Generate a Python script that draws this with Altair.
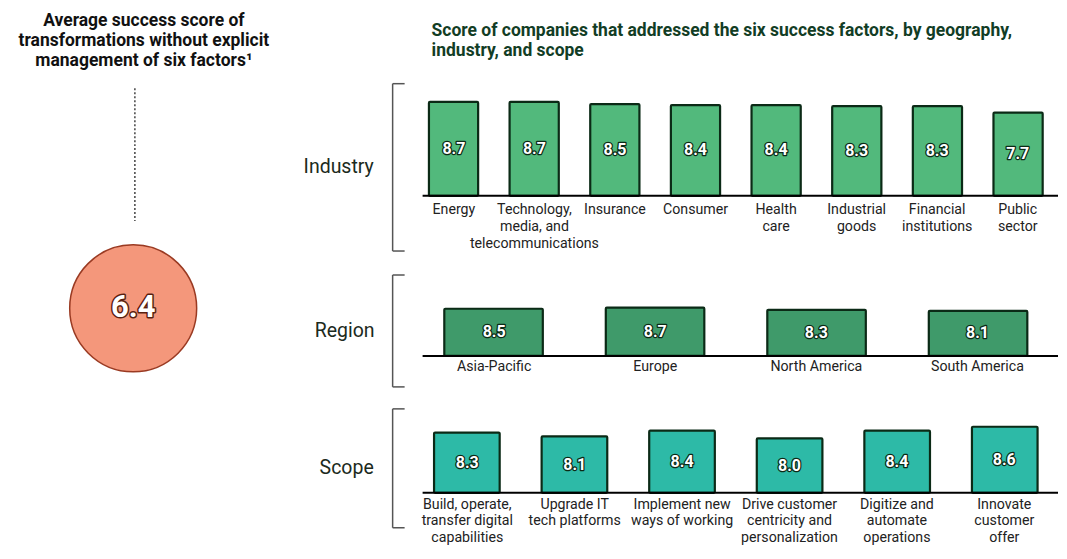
import altair as alt
import pandas as pd

# ---------------- data ----------------
left_title = ["Average success score of", "transformations without explicit", "management of six factors¹"]
right_title = ["Score of companies that addressed the six success factors, by geography,", "industry, and scope"]
row_names = ["Industry", "Region", "Scope"]
baseline_value = [6.4]

industry_cats = ["Energy", "Technology,\nmedia, and\ntelecommunications", "Insurance", "Consumer",
                 "Health\ncare", "Industrial\ngoods", "Financial\ninstitutions", "Public\nsector"]
industry_vals = [8.7, 8.7, 8.5, 8.4, 8.4, 8.3, 8.3, 7.7]

region_cats = ["Asia-Pacific", "Europe", "North America", "South America"]
region_vals = [8.5, 8.7, 8.3, 8.1]

scope_cats = ["Build, operate,\ntransfer digital\ncapabilities", "Upgrade IT\ntech platforms",
              "Implement new\nways of working", "Drive customer\ncentricity and\npersonalization",
              "Digitize and\nautomate\noperations", "Innovate\ncustomer\noffer"]
scope_vals = [8.3, 8.1, 8.4, 8.0, 8.4, 8.6]

# ---------------- styling / layout ----------------
FONT = "Roboto"
W, H = 1051, 536
X_RANGE = [406, 1051]
OUTLINE = "#0b2a16"
one = pd.DataFrame({"k": [0]})


def group(cats, vals, name, color, y_domain, y_range, label_top, line_h, bracket, name_pos):
    df = pd.DataFrame({"cat": cats, "value": vals})
    base = y_domain[0]
    xenc = alt.X("cat:N", sort=None, axis=None,
                 scale=alt.Scale(range=X_RANGE, paddingInner=0.39, paddingOuter=0.19))
    ysc = alt.Scale(domain=y_domain, range=y_range, zero=False, nice=False, clamp=True)

    bars = alt.Chart(df).mark_bar(color=color, stroke=OUTLINE, strokeWidth=2.2, cornerRadius=1).encode(
        x=xenc, y=alt.Y("value:Q", scale=ysc, axis=None), y2=alt.datum(base))

    rule = alt.Chart(one).mark_rule(color="black", strokeWidth=2).encode(
        x=alt.value(415), x2=alt.value(W), y=alt.YDatum(base, scale=ysc, axis=None))

    mid = alt.Chart(df).transform_calculate(mid=f"(datum.value + {base}) / 2")
    val_outline = mid.mark_text(font=FONT, fontWeight="bold", fontSize=16, color=OUTLINE,
                                stroke=OUTLINE, strokeWidth=2.5, strokeJoin="round").encode(
        x=xenc, y=alt.Y("mid:Q", scale=ysc, axis=None), text=alt.Text("value:Q", format=".1f"))
    val_text = mid.mark_text(font=FONT, fontWeight="bold", fontSize=16, color="white").encode(
        x=xenc, y=alt.Y("mid:Q", scale=ysc, axis=None), text=alt.Text("value:Q", format=".1f"))

    labels = alt.Chart(df).mark_text(font=FONT, fontSize=14.2, color="#222222", baseline="top",
                                     lineBreak="\n", lineHeight=line_h).encode(
        x=xenc, y=alt.value(label_top), text="cat:N")

    bx, b0, b1 = bracket
    br_v = alt.Chart(one).mark_rule(color="#555555", strokeWidth=1.5).encode(
        x=alt.value(bx), y=alt.value(b0), y2=alt.value(b1))
    br_t = alt.Chart(one).mark_rule(color="#555555", strokeWidth=1.5).encode(
        x=alt.value(bx), x2=alt.value(bx + 12), y=alt.value(b0))
    br_b = alt.Chart(one).mark_rule(color="#555555", strokeWidth=1.5).encode(
        x=alt.value(bx), x2=alt.value(bx + 12), y=alt.value(b1))

    row_label = alt.Chart(pd.DataFrame({"name": [name]})).mark_text(
        font=FONT, fontSize=19.5, color="#1b2a20").encode(
        x=alt.value(name_pos[0]), y=alt.value(name_pos[1]), text="name:N")

    return [bars, rule, val_outline, val_text, labels, br_v, br_t, br_b, row_label]


industry = group(industry_cats, industry_vals, row_names[0], "#52b97c",
                 [0, 9], [187.7, 90.5], 195, 17, (385, 75.5, 243), (331, 159))
region = group(region_cats, region_vals, row_names[1], "#3f9a6a",
               [0, 9], [348, 298], 352, 17, (385, 267, 379), (337, 323))
scope = group(scope_cats, scope_vals, row_names[2], "#2dbaa7",
              [5.2, 8.8], [485, 415], 490, 16.5, (385, 401, 520), (339, 460))

# ---------------- left panel ----------------
lt = alt.Chart(pd.DataFrame({"t": ["\n".join(left_title)]})).mark_text(
    font=FONT, fontSize=17.5, fontWeight="bold", color="#111111", baseline="top",
    lineBreak="\n", lineHeight=20, align="center").encode(
    x=alt.value(136), y=alt.value(4), text="t:N")

rt = alt.Chart(pd.DataFrame({"t": ["\n".join(right_title)]})).mark_text(
    font=FONT, fontSize=17.5, fontWeight="bold", color="#123d25", baseline="top",
    lineBreak="\n", lineHeight=20, align="left").encode(
    x=alt.value(424), y=alt.value(14), text="t:N")

dotted = alt.Chart(one).mark_rule(color="#444444", strokeWidth=1.5, strokeDash=[2, 2]).encode(
    x=alt.value(127), y=alt.value(80), y2=alt.value(213))

circ_df = pd.DataFrame({"v": baseline_value})
circle = alt.Chart(circ_df).mark_circle(color="#f4977b", opacity=1, stroke="#9a3a22",
                                        strokeWidth=1.5, size=16150).encode(
    x=alt.value(125.3), y=alt.value(300.3))
circ_outline = alt.Chart(circ_df).mark_text(font=FONT, fontSize=31, fontWeight="bold", color="#5a1f10",
                                            stroke="#5a1f10", strokeWidth=3, strokeJoin="round").encode(
    x=alt.value(125.3), y=alt.value(300.3), text=alt.Text("v:Q", format=".1f"))
circ_text = alt.Chart(circ_df).mark_text(font=FONT, fontSize=31, fontWeight="bold", color="white").encode(
    x=alt.value(125.3), y=alt.value(300.3), text=alt.Text("v:Q", format=".1f"))

layers = [lt, rt, dotted, circle, circ_outline, circ_text] + industry + region + scope

chart = alt.layer(*layers).resolve_scale(x="independent", y="independent").properties(
    width=W, height=H, padding=0
).configure_view(stroke=None)

chart.save("out.html", embed_options={"renderer": "svg", "actions": False})
